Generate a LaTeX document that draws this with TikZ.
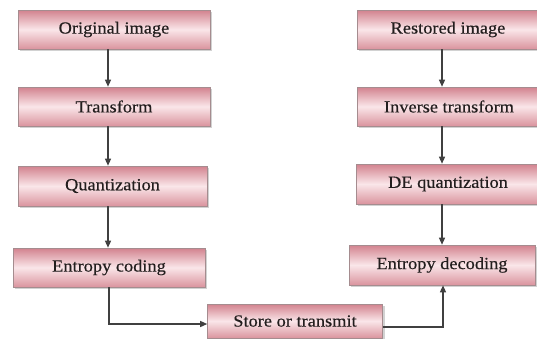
\documentclass[tikz,border=0pt]{standalone}
\usepackage{fontspec}
\setmainfont[FakeStretch=1.08,FakeBold=0.4]{Liberation Serif}
\usetikzlibrary{shadows,arrows.meta}
\definecolor{pinkedge}{RGB}{210,130,142}
\definecolor{pinkmid}{RGB}{250,230,233}
\definecolor{pinkdark}{RGB}{218,148,158}
\definecolor{boxline}{RGB}{165,140,143}
\definecolor{txt}{RGB}{35,30,30}
\tikzset{
  stage/.style={draw=boxline, line width=0.6pt,
    top color=pinkedge, bottom color=pinkdark, middle color=pinkmid,
    drop shadow={shadow xshift=2pt, shadow yshift=-2pt, fill=black!35},
    minimum height=39pt, inner sep=0pt, text=txt,
    font=\fontsize{17}{20}\selectfont},
  flow/.style={draw=black!75, line width=1.3pt, -{Triangle[length=7pt,width=6pt]}}
}
\begin{document}
\begin{tikzpicture}[x=1pt,y=-1pt]
  \useasboundingbox (0,0) rectangle (537,338);
  % compression chain
  \node[stage, minimum width=192pt] (orig) at (114,29.5) {Original image};
  \node[stage, minimum width=192pt] (trans) at (114,106.5) {Transform};
  \node[stage, minimum width=189pt, minimum height=40pt] (quant) at (112.5,186) {Quantization};
  \node[stage, minimum width=192pt] (enc) at (109,267.5) {Entropy coding};
  % channel
  \node[stage, minimum width=175pt, minimum height=34pt] (store) at (295,321) {Store or transmit};
  % decompression chain
  \node[stage, minimum width=182pt] (rest) at (448,29.5) {Restored image};
  \node[stage, minimum width=184pt] (inv) at (449,106.5) {Inverse transform};
  \node[stage, minimum width=184pt, minimum height=40pt] (dequant) at (448,184) {DE quantization};
  \node[stage, minimum width=186pt, minimum height=40pt] (dec) at (442,265) {Entropy decoding};
  \coordinate (encdown) at (109,324);
  \coordinate (decdown) at (443,327);
  % arrows
  \draw[flow] (orig.south -| 108,0) -- (trans.north -| 108,0);
  \draw[flow] (trans.south -| 108,0) -- (quant.north -| 108,0);
  \draw[flow] (quant.south -| 108,0) -- (enc.north -| 108,0);
  \draw[flow] (enc.south -| encdown) -- (encdown) -- (store.west |- encdown);
  \draw[flow] (store.east |- decdown) -- (decdown) -- (dec.south -| decdown);
  \draw[flow] (dequant.south -| 442,0) -- (dec.north -| 442,0);
  \draw[flow] (inv.south -| 442,0) -- (dequant.north -| 442,0);
  \draw[flow] (rest.south -| 442,0) -- (inv.north -| 442,0);
\end{tikzpicture}
\end{document}
